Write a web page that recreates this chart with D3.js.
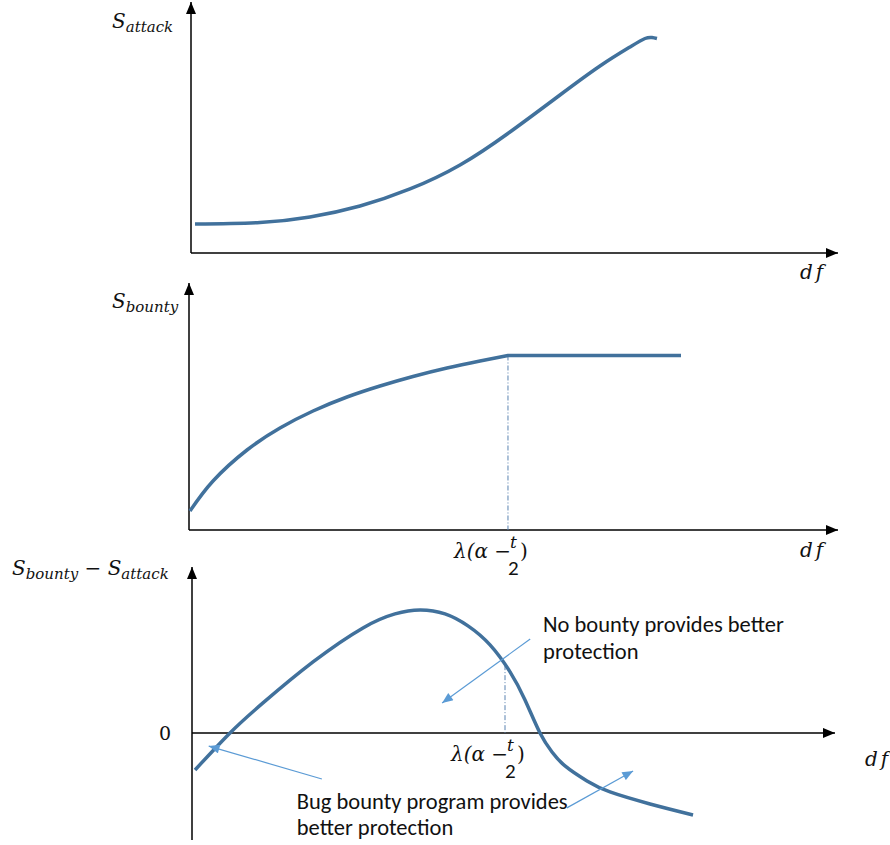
<!DOCTYPE html>
<html lang="en">
<head>
<meta charset="UTF-8">
<title>bounty vs attack</title>
<script src="https://d3js.org/d3.v7.min.js"></script>
<style>
  body { margin: 0; background: #fff; }
  .math { font-family: "DejaVu Serif", serif; font-style: italic; fill: #111; }
  .upright { font-style: normal; }
  .note { font-family: Carlito, "Open Sans", sans-serif; font-size: 22.5px; fill: #111; }
</style>
</head>
<body>
<div id="viz"></div>
<script>
// ---- data (x and y in 0..100 units of each panel) ----
var attackX  = [0.62, 10.66, 18.39, 26.12, 33.85, 41.58, 49.30, 57.03, 63.21, 67.85, 70.17, 71.25, 72.02];
var attackY  = [11.55, 12.15, 14.34, 18.73, 25.50, 35.06, 48.21, 62.95, 74.50, 82.07, 85.46, 85.86, 85.46];

var bountyX  = [0.15, 3.70, 8.94, 14.02, 19.11, 24.35, 29.43, 34.51, 39.75, 44.84, 49.15, 75.81];
var bountyY  = [7.69, 19.84, 32.39, 41.30, 48.18, 53.85, 58.30, 62.15, 65.59, 68.42, 70.65, 70.65];
var bountyCap = 49.15;   // lambda(alpha - t/2)

var diffX = [0.47, 5.91, 11.04, 18.82, 26.59, 31.57, 35.46, 39.35, 42.92, 46.35, 49.46, 51.79, 54.12,
             55.99, 58.01, 61.43, 65.01, 71.23, 77.92];
var diffY = [-13.83, 0, 11.21, 26.53, 39.24, 44.47, 45.96, 44.47, 39.99, 32.88, 22.80, 12.33, 0,
             -7.10, -12.33, -17.94, -22.05, -26.53, -30.64];
var diffCap = 48.68;

// annotation arrows in panel 3 units: [x1, y1, x2, y2], arrowhead at the end
var noteArrows = [[52.6, 35.1, 38.9, 11.2], [20.2, -17.2, 2.6, -4.9], [58.3, -28.0, 68.6, -14.2]];
var noteLines = [
  {x: 54.6, y: 37.7, text: "No bounty provides better"},
  {x: 54.6, y: 27.6, text: "protection"},
  {x: 16.3, y: -28.4, text: "Bug bounty program provides"},
  {x: 16.3, y: -38.1, text: "better protection"}
];

var curveColor = "#41719c";
var noteColor = "#5b9bd5";

var W = 890, H = 845;
var svg = d3.select("#viz").append("svg").attr("width", W).attr("height", H);

var defs = svg.append("defs");
defs.append("marker").attr("id", "axHead")
    .attr("viewBox", "0 0 12 10").attr("refX", 12).attr("refY", 5)
    .attr("markerWidth", 12).attr("markerHeight", 10).attr("markerUnits", "userSpaceOnUse")
    .attr("orient", "auto")
  .append("path").attr("d", "M0,0 L12,5 L0,10 Z").attr("fill", "#000");
defs.append("marker").attr("id", "noteHead")
    .attr("viewBox", "0 0 12 10").attr("refX", 12).attr("refY", 5)
    .attr("markerWidth", 12).attr("markerHeight", 9).attr("markerUnits", "userSpaceOnUse")
    .attr("orient", "auto")
  .append("path").attr("d", "M0,0 L12,5 L0,10 Z").attr("fill", noteColor);

var panels = [
  {xs: attackX, ys: attackY, x: d3.scaleLinear().domain([0, 100]).range([191, 838]),
   y: d3.scaleLinear().domain([0, 100]).range([253, 2]), base: 0, label: [["S", ""], ["attack", "sub"]],
   lx: 112, ly: 28, dfx: 800, dfy: 279},
  {xs: bountyX, ys: bountyY, x: d3.scaleLinear().domain([0, 100]).range([189, 838]),
   y: d3.scaleLinear().domain([0, 100]).range([530, 283]), base: 0, label: [["S", ""], ["bounty", "sub"]],
   lx: 112, ly: 308, dfx: 800, dfy: 557, cap: bountyCap, flatAfterCap: true},
  {xs: diffX, ys: diffY, x: d3.scaleLinear().domain([0, 100]).range([192, 835]),
   y: d3.scaleLinear().domain([-40, 62]).range([840, 567]), base: 0,
   label: [["S", ""], ["bounty", "sub"], [" \u2212 S", ""], ["attack", "sub"]],
   lx: 12, ly: 575, dfx: 865, dfy: 766, cap: diffCap, zero: true}
];

var line = d3.line().curve(d3.curveNatural);

panels.forEach(function(p) {
  var g = svg.append("g");
  var x0 = p.x.range()[0], x1 = p.x.range()[1];
  var yb = p.y.range()[0], yt = p.y.range()[1];
  var y0 = p.y(p.base);

  // axes
  g.append("line").attr("x1", x0).attr("y1", yb).attr("x2", x0).attr("y2", yt)
    .attr("stroke", "#000").attr("stroke-width", 1.5).attr("marker-end", "url(#axHead)");
  g.append("line").attr("x1", x0).attr("y1", y0).attr("x2", x1).attr("y2", y0)
    .attr("stroke", "#000").attr("stroke-width", 1.5).attr("marker-end", "url(#axHead)");

  // y label
  var t = g.append("text").attr("class", "math").attr("x", p.lx).attr("y", p.ly).attr("font-size", 20);
  p.label.forEach(function(part) {
    var s = t.append("tspan").text(part[0]);
    if (part[1] == "sub") s.attr("font-size", 15).attr("dy", 4);
    else s.attr("dy", t.selectAll("tspan").size() > 1 ? -4 : 0);
  });

  g.append("text").attr("class", "math").attr("x", p.dfx).attr("y", p.dfy)
    .attr("font-size", 20).attr("letter-spacing", 3).text("df");

  if (p.zero) {
    g.append("text").attr("class", "math upright").attr("x", 159).attr("y", y0 + 7)
      .attr("font-size", 19).text("0");
  }

  // threshold
  if (p.cap != null) {
    var cx = p.x(p.cap);
    var i = d3.bisectLeft(p.xs, p.cap);
    var yi = p.ys[Math.min(i, p.ys.length - 1)];
    if (i > 0 && i < p.xs.length) {
      var f = (p.cap - p.xs[i - 1]) / (p.xs[i] - p.xs[i - 1]);
      yi = p.ys[i - 1] + f * (p.ys[i] - p.ys[i - 1]);
    }
    g.append("line").attr("x1", cx).attr("x2", cx).attr("y1", p.y(yi)).attr("y2", y0)
      .attr("stroke", "#5a82b0").attr("stroke-width", 1).attr("stroke-dasharray", "5,2,1,2");

    g.append("text").attr("class", "math").attr("x", cx - 54).attr("y", y0 + 28).attr("font-size", 20)
      .text("\u03bb(\u03b1 \u2212");
    g.append("text").attr("class", "math").attr("x", cx + 2).attr("y", y0 + 18).attr("font-size", 17).text("t");
    g.append("text").attr("class", "upright").attr("x", cx).attr("y", y0 + 45).attr("font-size", 21)
      .attr("font-family", "Carlito, 'Open Sans', sans-serif").attr("fill", "#111").text("2");
    g.append("text").attr("class", "math upright").attr("x", cx + 12).attr("y", y0 + 28).attr("font-size", 20)
      .text(")");
  }

  // curve
  var pts = p.xs.map(function(v, k) { return [p.x(v), p.y(p.ys[k])]; });
  var d;
  if (p.flatAfterCap) {
    var k = p.xs.indexOf(p.cap);
    d = line(pts.slice(0, k + 1)) + "L" + pts.slice(k + 1).map(function(q) { return q.join(","); }).join("L");
  } else {
    d = line(pts);
  }
  g.append("path").attr("d", d).attr("fill", "none")
    .attr("stroke", curveColor).attr("stroke-width", 3.5).attr("stroke-linecap", "butt");
});

// annotations on the last panel
var pd = panels[2];
svg.append("g").selectAll("line").data(noteArrows).enter().append("line")
  .attr("x1", function(d) { return pd.x(d[0]); }).attr("y1", function(d) { return pd.y(d[1]); })
  .attr("x2", function(d) { return pd.x(d[2]); }).attr("y2", function(d) { return pd.y(d[3]); })
  .attr("stroke", noteColor).attr("stroke-width", 1.2).attr("marker-end", "url(#noteHead)");

svg.append("g").selectAll("text").data(noteLines).enter().append("text")
  .attr("class", "note")
  .attr("x", function(d) { return pd.x(d.x); }).attr("y", function(d) { return pd.y(d.y); })
  .text(function(d) { return d.text; });
</script>
</body>
</html>
